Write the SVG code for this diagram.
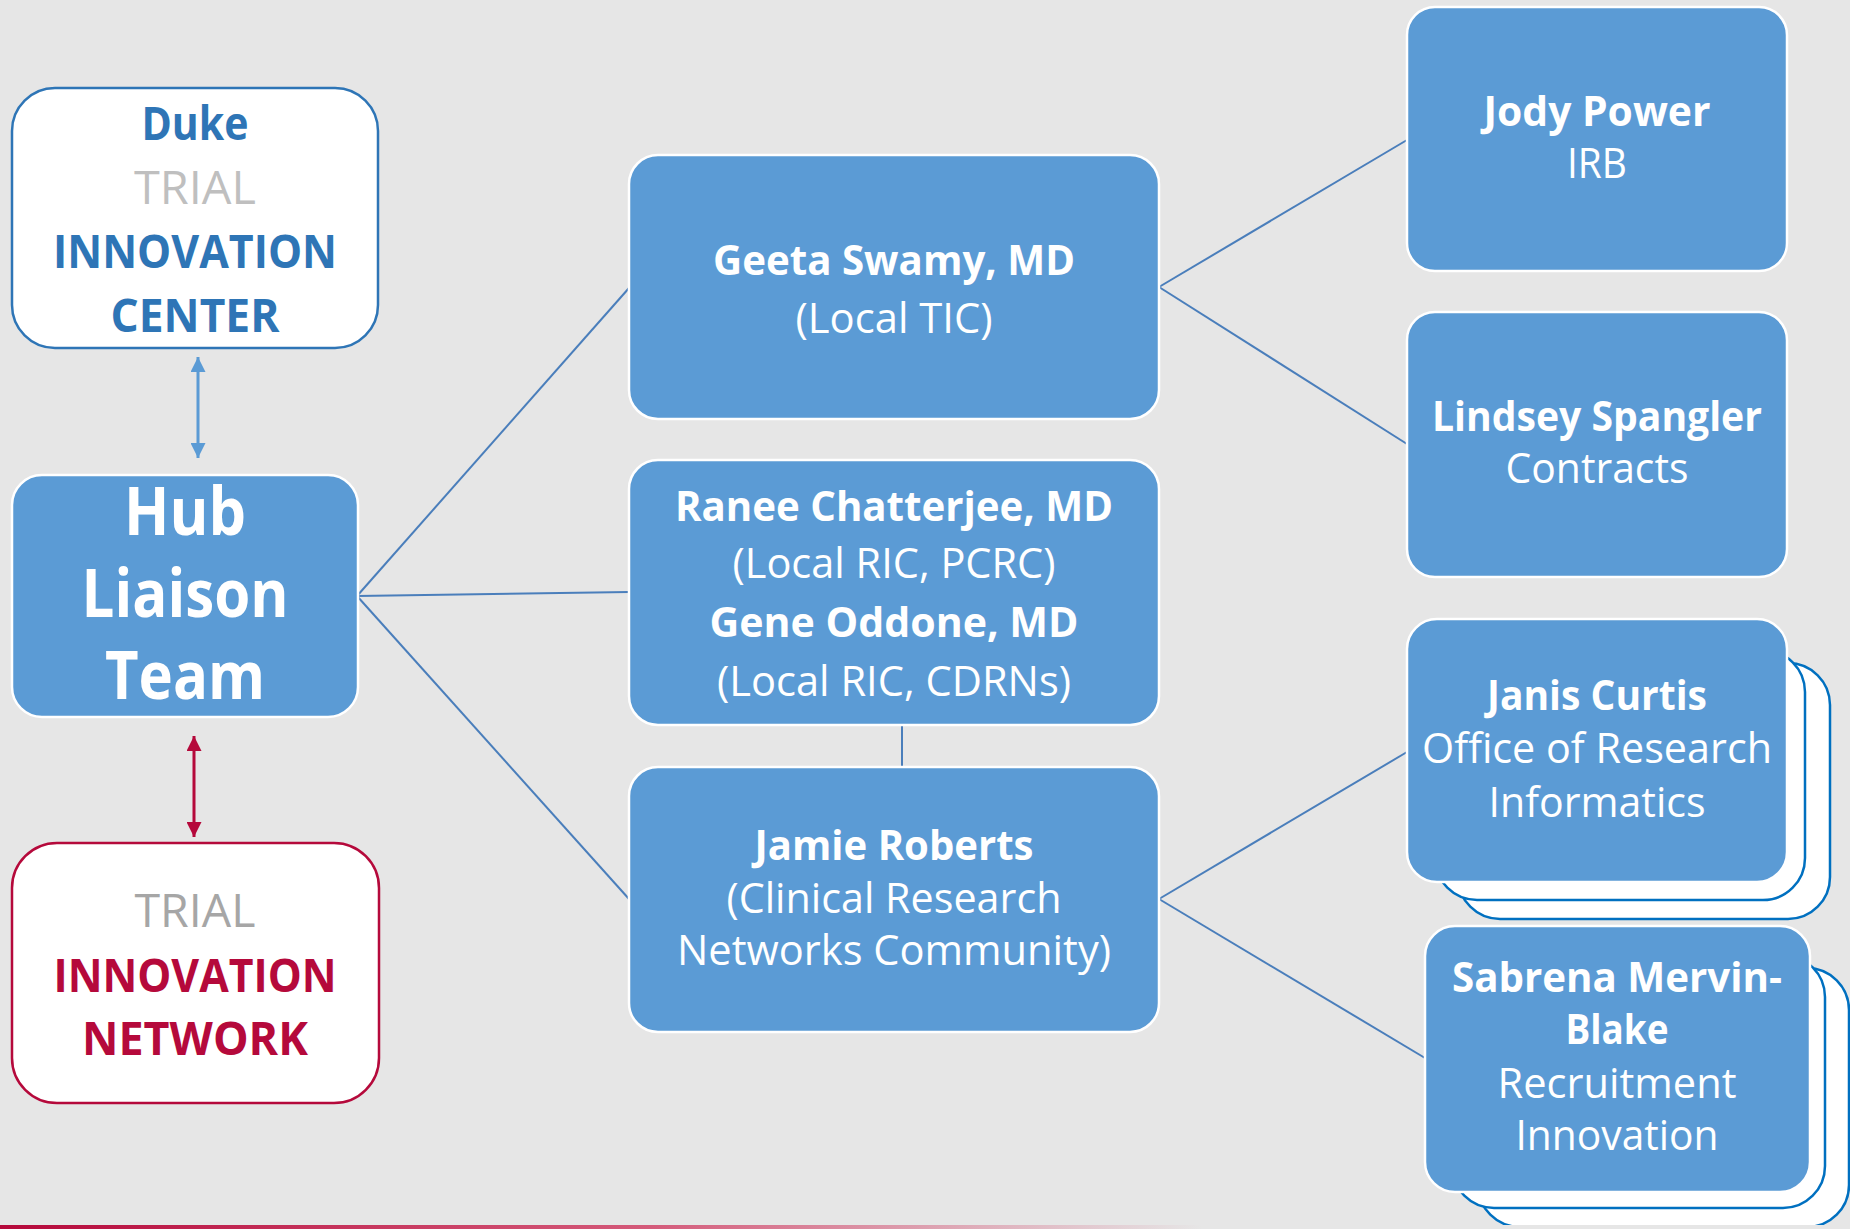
<svg xmlns="http://www.w3.org/2000/svg" width="1850" height="1229" viewBox="0 0 1850 1229">
<defs>
<style>
.bg{fill:#E6E6E6}
.node{fill:#5B9BD5;stroke:#FFFFFF;stroke-width:2.5}
.layer{fill:#FFFFFF;stroke:#0070C0;stroke-width:2.5}
.t{font-family:'Open Sans','Noto Sans',sans-serif;text-anchor:middle;fill:#FFFFFF}
.b{font-weight:700}
.r{font-weight:400}
.n{font-size:42px}
.big{font-size:46px}
.hub{font-size:66px}
.conn line{stroke:#4A7EBB;stroke-width:2;fill:none}
.blue{fill:#2E75B6}
.crim{fill:#B5093B}
</style>
<marker id="ahBlue" viewBox="0 0 10 10" refX="10" refY="5" markerUnits="userSpaceOnUse" markerWidth="15" markerHeight="15" orient="auto-start-reverse">
<path d="M0,0 L10,5 L0,10 z" fill="#5B9BD5"/>
</marker>
<marker id="ahRed" viewBox="0 0 10 10" refX="10" refY="5" markerUnits="userSpaceOnUse" markerWidth="15" markerHeight="15" orient="auto-start-reverse">
<path d="M0,0 L10,5 L0,10 z" fill="#B5093B"/>
</marker>
<linearGradient id="foot" x1="0" y1="0" x2="1850" y2="0" gradientUnits="userSpaceOnUse">
<stop offset="0" stop-color="#B5093B"/>
<stop offset="0.35" stop-color="#D45A7A"/>
<stop offset="0.65" stop-color="#E6E6E6"/>
</linearGradient>
</defs>
<rect class="bg" x="0" y="0" width="1850" height="1229"/>

<g id="connectors">
<g class="conn">
<line x1="357" y1="596" x2="629" y2="288"/>
<line x1="357" y1="596" x2="629" y2="592"/>
<line x1="357" y1="596" x2="629" y2="899"/>
<line x1="1159" y1="287" x2="1407" y2="140"/>
<line x1="1159" y1="287" x2="1407" y2="444"/>
<line x1="902" y1="725" x2="902" y2="767"/>
<line x1="1159" y1="899" x2="1407" y2="752"/>
<line x1="1159" y1="899" x2="1425" y2="1058"/>
</g>
<line x1="198" y1="357" x2="198" y2="458" stroke="#5B9BD5" stroke-width="3" marker-start="url(#ahBlue)" marker-end="url(#ahBlue)"/>
<line x1="194" y1="736" x2="194" y2="837" stroke="#B5093B" stroke-width="3" marker-start="url(#ahRed)" marker-end="url(#ahRed)"/>
</g>

<g id="duke-tic">
<rect x="12" y="88" width="366" height="260" rx="43" ry="43" fill="#FFFFFF" stroke="#2E75B6" stroke-width="2.5"/>
<text class="t b big blue" x="195" y="140" textLength="107" lengthAdjust="spacingAndGlyphs">Duke</text>
<text class="t r big" x="195" y="204" style="fill:#BFBFBF" textLength="122" lengthAdjust="spacingAndGlyphs">TRIAL</text>
<text class="t b big blue" x="195" y="268" textLength="284" lengthAdjust="spacingAndGlyphs">INNOVATION</text>
<text class="t b big blue" x="195" y="332" textLength="169" lengthAdjust="spacingAndGlyphs">CENTER</text>
</g>

<g id="hub">
<rect class="node" x="12" y="475" width="346" height="242" rx="30" ry="30"/>
<text class="t b hub" x="185" y="535" textLength="122" lengthAdjust="spacingAndGlyphs">Hub</text>
<text class="t b hub" x="185" y="617" textLength="207" lengthAdjust="spacingAndGlyphs">Liaison</text>
<text class="t b hub" x="185" y="699" textLength="160" lengthAdjust="spacingAndGlyphs">Team</text>
</g>

<g id="tin">
<rect x="12" y="843" width="367" height="260" rx="45" ry="45" fill="#FFFFFF" stroke="#B5093B" stroke-width="2.5"/>
<text class="t r big" x="195" y="927" style="fill:#A6A6A6" textLength="121" lengthAdjust="spacingAndGlyphs">TRIAL</text>
<text class="t b big crim" x="195" y="992" textLength="283" lengthAdjust="spacingAndGlyphs">INNOVATION</text>
<text class="t b big crim" x="195" y="1055" textLength="226" lengthAdjust="spacingAndGlyphs">NETWORK</text>
</g>

<g id="geeta">
<rect class="node" x="629" y="155" width="530" height="264" rx="29" ry="29"/>
<text class="t b n" x="894" y="275" textLength="362" lengthAdjust="spacingAndGlyphs">Geeta Swamy, MD</text>
<text class="t r n" x="894" y="333" textLength="197" lengthAdjust="spacingAndGlyphs">(Local TIC)</text>
</g>

<g id="ranee-gene">
<rect class="node" x="629" y="460" width="530" height="265" rx="29" ry="29"/>
<text class="t b n" x="894" y="521" textLength="438" lengthAdjust="spacingAndGlyphs">Ranee Chatterjee, MD</text>
<text class="t r n" x="894" y="578" textLength="323" lengthAdjust="spacingAndGlyphs">(Local RIC, PCRC)</text>
<text class="t b n" x="894" y="637" textLength="369" lengthAdjust="spacingAndGlyphs">Gene Oddone, MD</text>
<text class="t r n" x="894" y="696" textLength="354" lengthAdjust="spacingAndGlyphs">(Local RIC, CDRNs)</text>
</g>

<g id="jamie">
<rect class="node" x="629" y="767" width="530" height="265" rx="29" ry="29"/>
<text class="t b n" x="894" y="860" textLength="279" lengthAdjust="spacingAndGlyphs">Jamie Roberts</text>
<text class="t r n" x="894" y="913" textLength="335" lengthAdjust="spacingAndGlyphs">(Clinical Research</text>
<text class="t r n" x="894" y="965" textLength="434" lengthAdjust="spacingAndGlyphs">Networks Community)</text>
</g>

<g id="jody">
<rect class="node" x="1407" y="7" width="380" height="264" rx="28" ry="28"/>
<text class="t b n" x="1597" y="126" textLength="227" lengthAdjust="spacingAndGlyphs">Jody Power</text>
<text class="t r n" x="1597" y="178" textLength="60" lengthAdjust="spacingAndGlyphs">IRB</text>
</g>

<g id="lindsey">
<rect class="node" x="1407" y="312" width="380" height="265" rx="28" ry="28"/>
<text class="t b n" x="1597" y="431" textLength="330" lengthAdjust="spacingAndGlyphs">Lindsey Spangler</text>
<text class="t r n" x="1597" y="483" textLength="183" lengthAdjust="spacingAndGlyphs">Contracts</text>
</g>

<g id="janis">
<rect class="layer" x="1458" y="663" width="372" height="256" rx="42" ry="42"/>
<rect class="layer" x="1435" y="650" width="370" height="250" rx="42" ry="42"/>
<rect class="node" x="1407" y="619" width="380" height="263" rx="30" ry="30"/>
<text class="t b n" x="1597" y="710" textLength="220" lengthAdjust="spacingAndGlyphs">Janis Curtis</text>
<text class="t r n" x="1597" y="763" textLength="350" lengthAdjust="spacingAndGlyphs">Office of Research</text>
<text class="t r n" x="1597" y="817" textLength="217" lengthAdjust="spacingAndGlyphs">Informatics</text>
</g>

<g id="sabrena">
<rect class="layer" x="1478" y="968" width="371" height="259" rx="42" ry="42"/>
<rect class="layer" x="1452" y="955" width="373" height="253" rx="42" ry="42"/>
<rect class="node" x="1425" y="926" width="385" height="266" rx="30" ry="30"/>
<text class="t b n" x="1617" y="992" textLength="330" lengthAdjust="spacingAndGlyphs">Sabrena Mervin-</text>
<text class="t b n" x="1617" y="1044" textLength="103" lengthAdjust="spacingAndGlyphs">Blake</text>
<text class="t r n" x="1617" y="1098" textLength="239" lengthAdjust="spacingAndGlyphs">Recruitment</text>
<text class="t r n" x="1617" y="1150" textLength="203" lengthAdjust="spacingAndGlyphs">Innovation</text>
</g>

<rect x="0" y="1225" width="1850" height="4" fill="url(#foot)"/>
</svg>
